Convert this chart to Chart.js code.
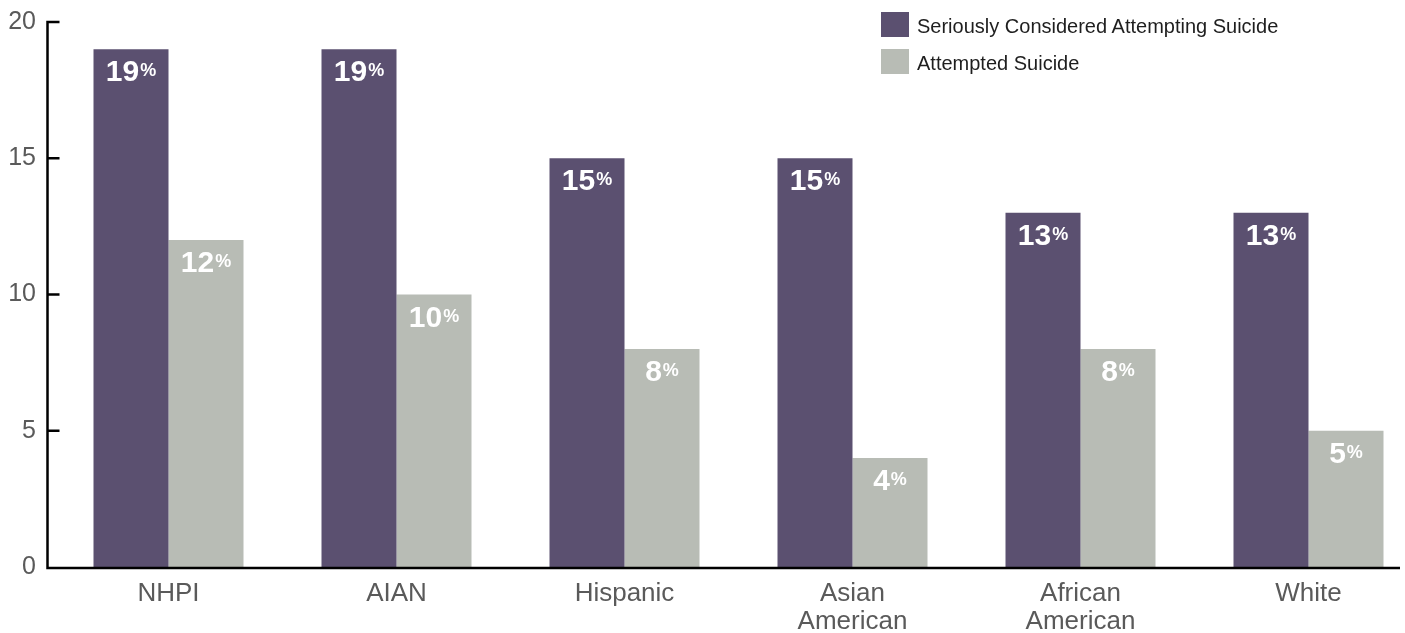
<!DOCTYPE html>
<html>
<head>
<meta charset="utf-8">
<title>Suicide Ideation and Attempts by Race/Ethnicity</title>
<script src="https://cdn.jsdelivr.net/npm/chart.js@4/dist/chart.umd.min.js"></script>
<style>
    html, body {
        margin: 0;
        padding: 0;
        background: #ffffff;
        overflow: hidden;
    }
    #wrap {
        position: relative;
        width: 1423px;
        height: 633px;
    }
    #suicide-chart {
        display: block;
    }
    #legend {
        position: absolute;
        left: 881px;
        top: 12px;
        font-family: "Liberation Sans", Arial, sans-serif;
        font-size: 20px;
        color: #1e1e1e;
    }
    .legend-item {
        display: flex;
        align-items: center;
        height: 25px;
        margin-bottom: 12px;
    }
    .legend-item span {
        position: relative;
        top: 2px;
    }
    .legend-box {
        width: 28px;
        height: 25px;
        margin-right: 8px;
    }
</style>
</head>
<body>
<div id="wrap">
    <canvas id="suicide-chart" width="1423" height="633"></canvas>
    <div id="legend"></div>
</div>
<script>
// Chart data
const categories = ['NHPI', 'AIAN', 'Hispanic', ['Asian', 'American'], ['African', 'American'], 'White'];
const seriesNames = ['Seriously Considered Attempting Suicide', 'Attempted Suicide'];
const consideredValues = [19, 19, 15, 15, 13, 13];
const attemptedValues = [12, 10, 8, 4, 8, 5];
const yTicks = [0, 5, 10, 15, 20];

document.addEventListener('DOMContentLoaded', function() {
    const colors = {
        purple: '#5b5070',
        gray: '#b8bcb5',
        axis: '#000000',
        tickText: '#5a5a5a'
    };
    const fontFamily = '"Liberation Sans", Arial, sans-serif';

    // white "19%" labels inside the top of each bar
    const barLabels = {
        id: 'barLabels',
        afterDatasetsDraw(chart) {
            const c = chart.ctx;
            const bigFont = 'bold 30px ' + fontFamily;
            const smallFont = 'bold 18px ' + fontFamily;
            chart.data.datasets.forEach((ds, di) => {
                chart.getDatasetMeta(di).data.forEach((bar, i) => {
                    const num = String(ds.data[i]);
                    c.save();
                    c.fillStyle = '#ffffff';
                    c.textAlign = 'left';
                    c.textBaseline = 'alphabetic';
                    c.font = bigFont;
                    const w1 = c.measureText(num).width;
                    c.font = smallFont;
                    const w2 = c.measureText('%').width;
                    const left = bar.x - (w1 + 1 + w2) / 2;
                    const base = bar.y + 32;
                    c.font = bigFont;
                    c.fillText(num, left, base);
                    c.font = smallFont;
                    c.fillText('%', left + w1 + 1, base - 5);
                    c.restore();
                });
            });
        }
    };

    // axis lines with inward tick marks
    const axisLines = {
        id: 'axisLines',
        afterDatasetsDraw(chart) {
            const c = chart.ctx;
            const yScale = chart.scales.y;
            const area = chart.chartArea;
            const x0 = area.left - 7;
            const y0 = yScale.getPixelForValue(0) + 1;
            c.save();
            c.strokeStyle = colors.axis;
            c.lineWidth = 2.5;
            c.lineCap = 'butt';
            c.beginPath();
            c.moveTo(x0, yScale.getPixelForValue(yTicks[yTicks.length - 1]) - 1.2);
            c.lineTo(x0, y0 + 1.2);
            c.moveTo(x0 - 1.2, y0);
            c.lineTo(area.right - 22.5, y0);
            yTicks.forEach(v => {
                if (v === 0) return;
                const py = yScale.getPixelForValue(v);
                c.moveTo(x0 - 1.2, py);
                c.lineTo(x0 + 12, py);
            });
            c.stroke();
            c.restore();
        }
    };

    const ctx = document.getElementById('suicide-chart');
    const chart = new Chart(ctx, {
        type: 'bar',
        data: {
            labels: categories,
            datasets: [
                {
                    label: seriesNames[0],
                    data: consideredValues,
                    backgroundColor: colors.purple,
                    borderWidth: 0,
                    categoryPercentage: 150 / 228,
                    barPercentage: 1.0
                },
                {
                    label: seriesNames[1],
                    data: attemptedValues,
                    backgroundColor: colors.gray,
                    borderWidth: 0,
                    categoryPercentage: 150 / 228,
                    barPercentage: 1.0
                }
            ]
        },
        options: {
            responsive: false,
            animation: false,
            layout: {
                padding: { top: 22, left: 0, right: 0.5, bottom: 0 }
            },
            plugins: {
                legend: { display: false },
                tooltip: { enabled: false }
            },
            scales: {
                x: {
                    grid: { display: false },
                    border: { display: false },
                    ticks: {
                        color: colors.tickText,
                        padding: 5,
                        maxRotation: 0,
                        autoSkip: false,
                        font: { family: fontFamily, size: 26, lineHeight: 1.06 }
                    },
                    afterFit: function(scale) {
                        scale.height = 66;
                        scale.paddingLeft = 0;
                        scale.paddingRight = 0;
                    }
                },
                y: {
                    min: 0,
                    max: 20,
                    grid: { display: false },
                    border: { display: false },
                    ticks: {
                        color: colors.tickText,
                        padding: 10.5,
                        font: { family: fontFamily, size: 25 }
                    },
                    afterBuildTicks: function(scale) {
                        scale.ticks = yTicks.map(v => ({ value: v }));
                    },
                    afterFit: function(scale) {
                        scale.width = 54.5;
                        scale.paddingTop = 0;
                        scale.paddingBottom = 0;
                    }
                }
            }
        },
        plugins: [barLabels, axisLines]
    });

    // legend built from the datasets
    const legend = document.getElementById('legend');
    chart.data.datasets.forEach(ds => {
        const item = document.createElement('div');
        item.className = 'legend-item';
        const box = document.createElement('div');
        box.className = 'legend-box';
        box.style.background = ds.backgroundColor;
        const text = document.createElement('span');
        text.textContent = ds.label;
        item.appendChild(box);
        item.appendChild(text);
        legend.appendChild(item);
    });
});
</script>
</body>
</html>
